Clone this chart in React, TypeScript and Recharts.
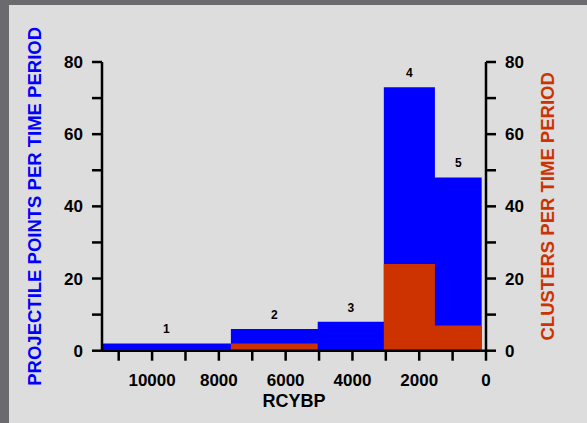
import React from 'react';
import { ComposedChart, Area, Scatter, XAxis, YAxis } from 'recharts';

// Time periods (RCYBP), left edge -> right edge
const periodLabels = ['1', '2', '3', '4', '5'];
const periodStart = [11500, 7640, 5040, 3060, 1530];
const periodEnd = [7640, 5040, 3060, 1530, 130];
const projectilePoints = [2, 6, 8, 73, 48];
const clusters = [0.3, 2, 0, 24, 7];

const xTicks = [0, 1000, 2000, 3000, 4000, 5000, 6000, 7000, 8000, 9000, 10000, 11000];
const yTicks = [0, 10, 20, 30, 40, 50, 60, 70, 80];

const stepData = [
  ...periodStart.map((s, i) => ({ year: s, points: projectilePoints[i], clusters: clusters[i] })),
  {
    year: periodEnd[periodEnd.length - 1],
    points: projectilePoints[projectilePoints.length - 1],
    clusters: clusters[clusters.length - 1],
  },
];

const labelData = periodLabels.map((l, i) => ({
  year: (periodStart[i] + periodEnd[i]) / 2,
  points: projectilePoints[i],
  label: l,
}));

const FONT = '"Liberation Sans", Arial, Helvetica, sans-serif';
const BLUE = '#0000ff';
const RED = '#cc3300';

const tickStyle = { fill: '#000', fontSize: 17, fontWeight: 'bold', fontFamily: FONT };
const lineStyle = { stroke: '#000', strokeWidth: 2.5 };

const xFmt = (v: number) => (v % 2000 === 0 ? String(v) : '');
const yFmt = (v: number) => (v % 20 === 0 ? String(v) : '');

const PeriodLabel = (props: any) => {
  const { cx, cy, payload } = props;
  return (
    <text x={cx} y={cy - 10} textAnchor="middle" fontFamily={FONT} fontWeight="bold" fontSize={12} fill="#000">
      {payload.label}
    </text>
  );
};

const LeftTitle = (props: any) => {
  const vb = props.viewBox || {};
  const cx = 34.2;
  const cy = vb.y + vb.height / 2;
  return (
    <text
      x={cx}
      y={cy}
      dy="0.355em"
      transform={`rotate(-90 ${cx} ${cy})`}
      textAnchor="middle"
      fontFamily={FONT}
      fontWeight="bold"
      fontSize={18.5}
      fill={BLUE}
    >
      PROJECTILE POINTS PER TIME PERIOD
    </text>
  );
};

const RightTitle = (props: any) => {
  const vb = props.viewBox || {};
  const cx = 547.5;
  const cy = vb.y + vb.height / 2;
  return (
    <text
      x={cx}
      y={cy}
      dy="0.355em"
      transform={`rotate(-90 ${cx} ${cy})`}
      textAnchor="middle"
      fontFamily={FONT}
      fontWeight="bold"
      fontSize={18.5}
      fill={RED}
    >
      CLUSTERS PER TIME PERIOD
    </text>
  );
};

export default function App() {
  return (
    <div style={{ position: 'absolute', left: 0, top: 0, width: 587, height: 423, background: '#6b6a6e', overflow: 'hidden' }}>
      <div style={{ position: 'absolute', left: 9, top: 5, right: 0, bottom: 0, background: '#dddddd' }} />
      <div style={{ position: 'absolute', left: 0, top: 0 }}>
        <ComposedChart width={587} height={423} data={stepData} margin={{ top: 62, right: 41, bottom: 32.3, left: 42 }}>
          <XAxis
            dataKey="year"
            type="number"
            domain={[0, 11500]}
            reversed
            ticks={xTicks}
            interval={0}
            tickFormatter={xFmt}
            tick={tickStyle}
            tickSize={10}
            tickMargin={13}
            axisLine={lineStyle}
            tickLine={lineStyle}
            height={40}
            label={{ value: 'RCYBP', position: 'bottom', offset: 4, fill: '#000', fontSize: 18, fontWeight: 'bold', fontFamily: FONT }}
          />
          <YAxis
            yAxisId="left"
            orientation="left"
            domain={[0, 80]}
            ticks={yTicks}
            interval={0}
            tickFormatter={yFmt}
            tick={tickStyle}
            tickSize={10}
            tickMargin={9}
            axisLine={lineStyle}
            tickLine={lineStyle}
            width={60}
            label={{ content: LeftTitle }}
          />
          <YAxis
            yAxisId="right"
            orientation="right"
            domain={[0, 80]}
            ticks={yTicks}
            interval={0}
            tickFormatter={yFmt}
            tick={tickStyle}
            tickSize={10}
            tickMargin={9}
            axisLine={lineStyle}
            tickLine={lineStyle}
            width={60}
            label={{ content: RightTitle }}
          />
          <Area
            yAxisId="left"
            dataKey="points"
            type="stepAfter"
            fill={BLUE}
            fillOpacity={1}
            stroke="none"
            isAnimationActive={false}
            dot={false}
            activeDot={false}
          />
          <Area
            yAxisId="right"
            dataKey="clusters"
            type="stepAfter"
            fill={RED}
            fillOpacity={1}
            stroke="none"
            isAnimationActive={false}
            dot={false}
            activeDot={false}
          />
          <Scatter
            yAxisId="left"
            data={labelData}
            dataKey="points"
            shape={PeriodLabel}
            isAnimationActive={false}
          />
        </ComposedChart>
      </div>
    </div>
  );
}
